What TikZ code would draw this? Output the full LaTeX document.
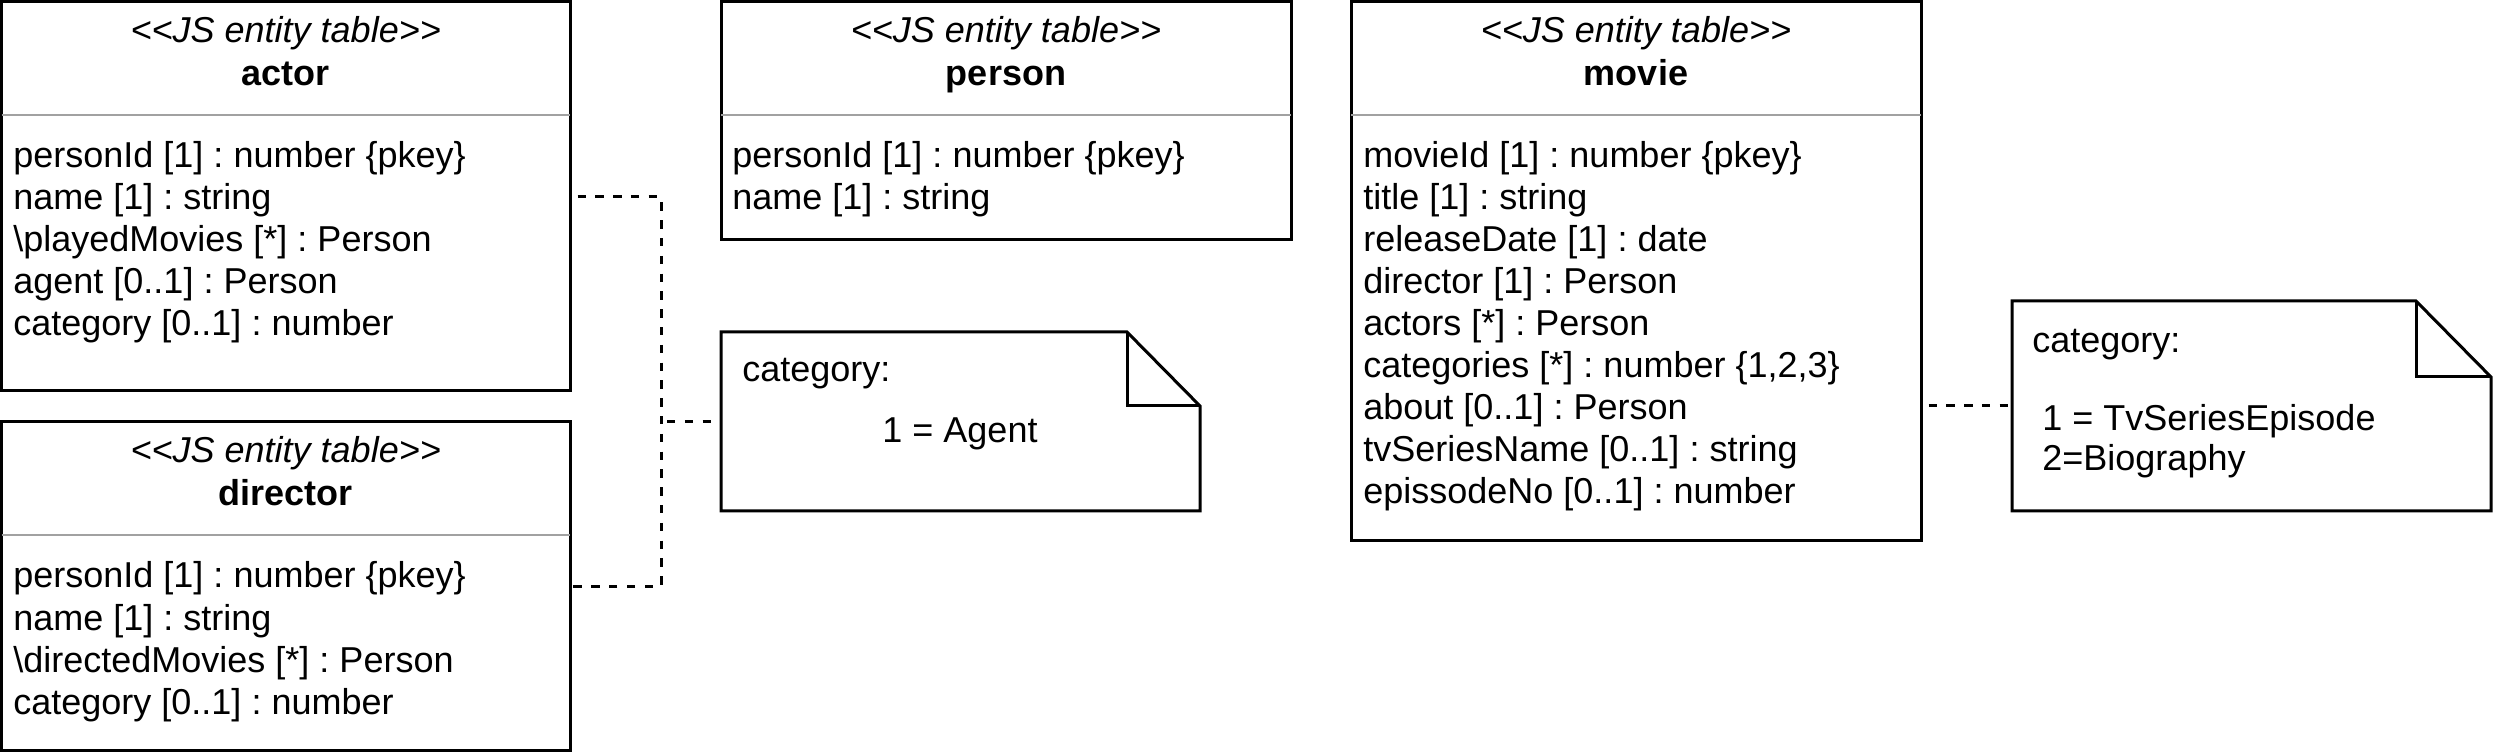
\documentclass[tikz,border=0pt]{standalone}
\usepackage{fontspec}
\setmainfont{Liberation Sans}
\usetikzlibrary{fit}
\frenchspacing
\begin{document}
\begin{tikzpicture}[x=0.5pt,y=-0.5pt,
  boxline/.style={draw=black, line width=1.5pt, inner sep=0pt},
  fitnode/.style={inner sep=0pt},
  sepline/.style={draw=black!37, line width=1.15pt},
  stereo/.style={font=\fontsize{18}{21}\selectfont\itshape, anchor=base, inner sep=0pt},
  entname/.style={font=\fontsize{18}{21}\selectfont\bfseries, anchor=base, inner sep=0pt},
  attr/.style={font=\fontsize{18}{21}\selectfont, anchor=base west, inner sep=0pt},
  ctext/.style={font=\fontsize{18}{21}\selectfont, anchor=base, inner sep=0pt},
  conn/.style={draw=black, line width=1.5pt, dash pattern=on 4.2pt off 4.7pt, dash phase=-3pt},
  notebody/.style={draw=black, line width=1.5pt, line join=miter, fill=white},
  notefold/.style={draw=black, line width=1.5pt, line join=miter}
]
\useasboundingbox (0,0) rectangle (2496,753);

% ---------- actor ----------
\node[boxline, fit={(1.5,2) (570,391)}] (actor) {};
\draw[sepline] (1.5,115) -- (570,115);
\node[stereo] (actor-st) at (285.75,43) {<{}<JS entity table>{}>};
\node[entname] (actor-nm) at (285.75,86) {actor};
\foreach \t [count=\i] in {{personId [1] : number \{pkey\}},{name [1] : string},{\textbackslash playedMovies [*] : Person},{agent [0..1] : Person},{category [0..1] : number}}
  \node[attr] (actor-\i) at (13,126+42*\i) {\t};

% ---------- director ----------
\node[boxline, fit={(1.5,422) (570,750)}] (director) {};
\draw[sepline] (1.5,535) -- (570,535);
\node[stereo] (director-st) at (285.75,463) {<{}<JS entity table>{}>};
\node[entname] (director-nm) at (285.75,506) {director};
\foreach \t [count=\i] in {{personId [1] : number \{pkey\}},{name [1] : string},{\textbackslash directedMovies [*] : Person},{category [0..1] : number}}
  \node[attr] (director-\i) at (13,546+42*\i) {\t};

% ---------- person ----------
\node[boxline, fit={(721,2) (1291,240)}] (person) {};
\draw[sepline] (721,115) -- (1291,115);
\node[stereo] (person-st) at (1006,43) {<{}<JS entity table>{}>};
\node[entname] (person-nm) at (1006,86) {person};
\foreach \t [count=\i] in {{personId [1] : number \{pkey\}},{name [1] : string}}
  \node[attr] (person-\i) at (732,126+42*\i) {\t};

% ---------- movie ----------
\node[boxline, fit={(1351,2) (1921,541)}] (movie) {};
\draw[sepline] (1351,115) -- (1921,115);
\node[stereo] (movie-st) at (1636,43) {<{}<JS entity table>{}>};
\node[entname] (movie-nm) at (1636,86) {movie};
\foreach \t [count=\i] in {{movieId [1] : number \{pkey\}},{title [1] : string},{releaseDate [1] : date},{director [1] : Person},{actors [*] : Person},{categories [*] : number \{1,2,3\}},{about [0..1] : Person},{tvSeriesName [0..1] : string},{epissodeNo [0..1] : number}}
  \node[attr] (movie-\i) at (1363,126+42*\i) {\t};

% ---------- note 1 ----------
\draw[notebody] (721,332) -- (1127,332) -- (1200,406) -- (1200,511) -- (721,511) -- cycle;
\draw[notefold] (1127,332) -- (1127,406) -- (1200,406);
\node[fitnode, fit={(721,332) (1200,511)}] (note1) {};
\node[attr] (note1-a) at (742,382) {category:};
\node[ctext] (note1-b) at (960,443) {1 = Agent};

% ---------- note 2 ----------
\draw[notebody] (2012,301) -- (2416,301) -- (2491,377) -- (2491,511) -- (2012,511) -- cycle;
\draw[notefold] (2416,301) -- (2416,377) -- (2491,377);
\node[fitnode, fit={(2012,301) (2491,511)}] (note2) {};
\node[attr] (note2-a) at (2032,353) {category:};
\node[attr] (note2-b) at (2042,431) {1 = TvSeriesEpisode};
\node[attr] (note2-c) at (2042,471) {2=Biography};

% ---------- connectors ----------
\coordinate (jA) at (661,197);
\coordinate (jD) at (661,586);
\coordinate (jN) at (661,422);
\coordinate (jM) at (1966,406);
\draw[conn] (jA -| actor.east) -- (jA) -- (jD) -- (jD -| director.east);
\draw[conn] (jN) -- (jN -| note1.west);
\draw[conn] (jM -| movie.east) -- (jM -| note2.west);
\end{tikzpicture}
\end{document}
